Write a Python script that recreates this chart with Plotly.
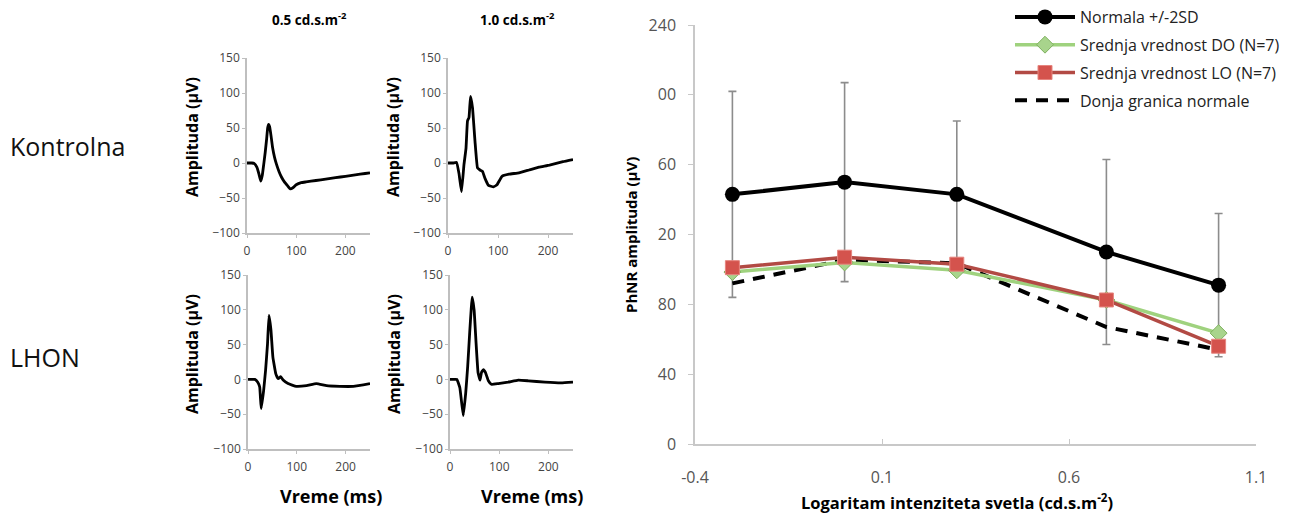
import plotly.graph_objects as go

W, H = 1289, 516

# ---------------- data ----------------
# ERG waveforms (time in ms, amplitude in µV)
t_k05 = [0, 5, 10, 15, 20, 24, 28, 31, 34, 37, 40, 42, 44, 46, 49, 52, 56, 60, 65, 70, 76, 82, 88, 94, 100, 110, 120, 140, 160, 180, 200, 220, 240, 250]
v_k05 = [0, 0, 0, -1, -6, -15, -26, -18, -2, 15, 35, 50, 55, 52, 38, 22, 8, -2, -12, -20, -27, -32, -37, -35, -31, -28, -27, -25, -23, -21, -19, -17, -15, -14]

t_k10 = [0, 10, 17, 22, 27, 32, 36, 39, 42, 45, 49, 54, 59, 64, 69, 74, 81, 91, 98, 108, 122, 142, 162, 182, 203, 230, 250]
v_k10 = [0, 0, 1, -15, -41, -2, 21, 60, 65, 95, 79, 31, -7, -10, -12, -22, -32, -34, -31, -19, -16, -14, -10, -6, -3, 2, 5]

t_l05 = [0, 8, 14, 20, 24, 27, 32, 36, 40, 43, 47, 51, 57, 62, 67, 72, 82, 99, 120, 140, 161, 188, 216, 250]
v_l05 = [0, 0, 0, -4, -11, -42, -16, 13, 51, 92, 71, 32, 8, 1, 4, -1, -6, -10, -9, -6, -9, -10, -10, -6]

t_l10 = [0, 8, 14, 20, 27, 32, 36, 40, 43, 45, 49, 53, 57, 61, 64, 68, 72, 78, 84, 98, 118, 139, 159, 193, 226, 250]
v_l10 = [0, 0, 0, -12, -52, -19, 19, 67, 100, 118, 100, 52, 10, -1, 10, 14, 10, -2, -7, -6, -4, -1, -2, -4, -5, -4]

# PhNR vs log intensity
log_int = [-0.3, 0.0, 0.3, 0.7, 1.0]
normala = [143, 150, 143, 110, 91]
normala_2sd = [59, 57, 42, 53, 41]
sred_do = [98.5, 104, 99.5, 82.5, 63.5]
sred_lo = [101, 107, 103, 82.5, 56]
donja = [92, 105.5, 103.5, 67, 54]

x_ticks = [-0.4, 0.1, 0.6, 1.1]
x_ticktext = ["-0.4", "0.1", "0.6", "1.1"]
y_ticks = [0, 40, 80, 120, 160, 200, 240]
y_ticktext = ["0", "40", "80", "20", "60", "00", "240"]

small_xticks = [0, 100, 200]
small_yticks = [-100, -50, 0, 50, 100, 150]

# ---------------- helpers ----------------
def xd(a, b):
    return [a / W, b / W]

def yd(top, bottom):
    return [1 - bottom / H, 1 - top / H]

FONT = "Open Sans"

fig = go.Figure()

panels = [
    (t_k05, v_k05, "x", "y"),
    (t_k10, v_k10, "x2", "y2"),
    (t_l05, v_l05, "x3", "y3"),
    (t_l10, v_l10, "x4", "y4"),
]
for t, v, xa, ya in panels:
    fig.add_trace(go.Scatter(x=t, y=v, mode="lines", xaxis=xa, yaxis=ya,
                             line=dict(color="black", width=2.8, shape="spline", smoothing=0.3),
                             showlegend=False, hoverinfo="skip"))

# right chart
fig.add_trace(go.Scatter(x=log_int, y=normala, mode="lines+markers", xaxis="x5", yaxis="y5",
                         name="Normala +/-2SD", legendrank=1, legendgroup="a",
                         line=dict(color="black", width=4),
                         marker=dict(symbol="circle", size=15, color="black"),
                         error_y=dict(type="data", array=normala_2sd, color="#8c8c8c", thickness=1.6, width=4)))
fig.add_trace(go.Scatter(x=log_int, y=donja, mode="lines", xaxis="x5", yaxis="y5",
                         name="Donja granica normale", legendrank=4, legendgroup="d",
                         line=dict(color="black", width=4, dash="12px,9px")))
fig.add_trace(go.Scatter(x=log_int, y=sred_do, mode="lines+markers", xaxis="x5", yaxis="y5",
                         name="Srednja vrednost DO (N=7)", legendrank=2, legendgroup="b",
                         line=dict(color="#9fd27e", width=3.5),
                         marker=dict(symbol="diamond", size=13, color="#a8d48c",
                                     line=dict(color="#7fb15f", width=1))))
fig.add_trace(go.Scatter(x=log_int, y=sred_lo, mode="lines+markers", xaxis="x5", yaxis="y5",
                         name="Srednja vrednost LO (N=7)", legendrank=3, legendgroup="c",
                         line=dict(color="#b24a44", width=3.5),
                         marker=dict(symbol="square", size=14, color="#d4534d",
                                     line=dict(color="#e6857f", width=1))))

small_ax = dict(showline=True, linecolor="#bfbfbf", linewidth=1.5, ticks="outside", ticklen=3,
                tickcolor="#bfbfbf", tickfont=dict(family=FONT, size=12, color="#444444"),
                showgrid=False, zeroline=False, fixedrange=True)

def sx(dom, anchor):
    d = dict(small_ax)
    d.update(domain=xd(*dom), anchor=anchor, range=[0, 250], tickvals=small_xticks,
             ticklabelstandoff=3)
    return d

def sy(dom, anchor):
    d = dict(small_ax)
    d.update(domain=yd(*dom), anchor=anchor, range=[-100, 150], tickvals=small_yticks)
    return d

fig.update_layout(
    width=W, height=H,
    margin=dict(l=0, r=0, t=0, b=0, autoexpand=False),
    paper_bgcolor="white", plot_bgcolor="white",
    font=dict(family=FONT, color="black"),
    xaxis=sx((247, 370), "y"), yaxis=sy((58, 233), "x"),
    xaxis2=sx((448, 573), "y2"), yaxis2=sy((58, 233), "x2"),
    xaxis3=sx((248, 370), "y3"), yaxis3=sy((275, 449), "x3"),
    xaxis4=sx((450, 573), "y4"), yaxis4=sy((275, 449), "x4"),
    xaxis5=dict(domain=xd(695, 1256), anchor="y5", range=[-0.4, 1.1], tickvals=x_ticks,
                ticktext=x_ticktext, showline=True, linecolor="#c8c8c8", linewidth=1.5,
                ticks="inside", ticklen=5, tickcolor="#c8c8c8", showgrid=False, zeroline=False,
                ticklabelstandoff=18,
                tickfont=dict(family=FONT, size=16, color="#555")),
    yaxis5=dict(domain=yd(25, 444), anchor="x5", range=[0, 240], tickvals=y_ticks,
                ticktext=y_ticktext, showline=True, linecolor="#c8c8c8", linewidth=1.5,
                ticks="outside", ticklen=5, tickcolor="#c8c8c8", showgrid=False, zeroline=False,
                ticklabelstandoff=9,
                tickfont=dict(family=FONT, size=16, color="#555")),
    legend=dict(x=1010 / W, y=1 - 0 / H, xanchor="left", yanchor="top",
                font=dict(family=FONT, size=16, color="#222"), itemwidth=60,
                bgcolor="rgba(0,0,0,0)", tracegroupgap=4, itemsizing="trace"),
    showlegend=True,
)

ann = []
def txt(x, y, s, size, bold=False, angle=0, xanchor="center", color="black"):
    ann.append(dict(x=x / W, y=1 - y / H, xref="paper", yref="paper",
                    text=("<b>" + s + "</b>") if bold else s, showarrow=False,
                    xanchor=xanchor, yanchor="middle", textangle=angle,
                    font=dict(family=FONT, size=size, color=color)))

txt(309, 19, "0.5 cd.s.m<sup>-2</sup>", 13.5, bold=True)
txt(517, 19, "1.0 cd.s.m<sup>-2</sup>", 13.5, bold=True)
txt(8, 146, "Kontrolna", 25, xanchor="left", color="#111")
txt(8, 357, "LHON", 25, xanchor="left", color="#111")
txt(192, 137, "Amplituda (µV)", 16, bold=True, angle=-90)
txt(393, 137, "Amplituda (µV)", 16, bold=True, angle=-90)
txt(192, 354, "Amplituda (µV)", 16, bold=True, angle=-90)
txt(394, 354, "Amplituda (µV)", 16, bold=True, angle=-90)
txt(331, 496, "Vreme (ms)", 18, bold=True)
txt(532, 496, "Vreme (ms)", 18, bold=True)
txt(631, 235, "PhNR amplituda (µV)", 15, bold=True, angle=-90)
txt(957, 502, "Logaritam intenziteta svetla (cd.s.m<sup>-2</sup>)", 16.5, bold=True)

fig.update_layout(annotations=ann)

fig.write_html("out.html")
